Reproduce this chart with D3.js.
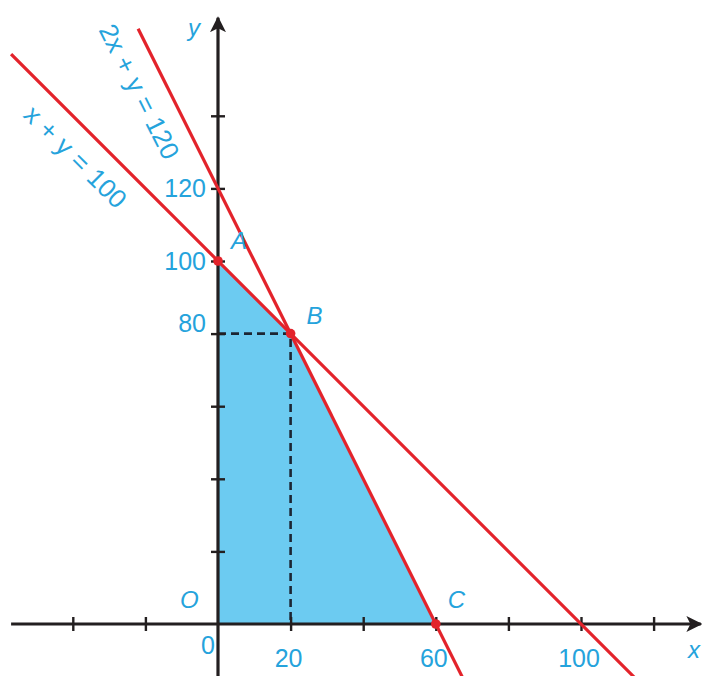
<!DOCTYPE html>
<html>
<head>
<meta charset="utf-8">
<script src="https://cdn.jsdelivr.net/npm/d3@7"></script>
<style>
  html, body { margin: 0; padding: 0; background: #fff; }
  svg { display: block; font-family: "Liberation Sans", Arial, sans-serif; }
</style>
</head>
<body>
<svg id="chart" width="703" height="676"></svg>
<script>
// region vertices (O, A, B, C)
const vertexNames = ['O', 'A', 'B', 'C'];
const vertexX     = [0, 0, 20, 60];
const vertexY     = [0, 100, 80, 0];

// boundary lines a*x + b*y = c, drawn between xFrom and xTo
const lineNames = ['x + y = 100', '2x + y = 120'];
const lineA     = [1, 2];
const lineB     = [1, 1];
const lineC     = [100, 120];
const lineFrom  = [-57, -22];
const lineTo    = [115, 68];

// axes
const xTicks      = [-40, -20, 20, 40, 60, 80, 100, 120];
const yTicks      = [20, 40, 60, 80, 100, 120, 140];
const xTickLabels = [20, 60, 100];
const yTickLabels = [80, 100, 120];

const BLUE  = '#25a3dc';
const RED   = '#e3232b';
const FILL  = '#6ccbf1';
const INK   = '#231f20';

const svg = d3.select('#chart');

const x = d3.scaleLinear().domain([0, 100]).range([218, 581]);
const y = d3.scaleLinear().domain([0, 100]).range([624, 261]);

// feasible region
svg.append('path')
    .datum(vertexX.map((v, i) => [v, vertexY[i]]))
    .attr('d', d3.line().x(d => x(d[0])).y(d => y(d[1])).curve(d3.curveLinearClosed))
    .attr('fill', FILL);

// dashed projections of B
const bx = vertexX[2], by = vertexY[2];
svg.append('path')
    .attr('d', `M${x(0)},${y(by)}H${x(bx)}V${y(0)}`)
    .attr('fill', 'none')
    .attr('stroke', '#1c2633')
    .attr('stroke-width', 2.6)
    .attr('stroke-dasharray', '8,5');

// axis lines with arrows
svg.append('defs').append('marker')
    .attr('id', 'arrow')
    .attr('viewBox', '0 0 10 10')
    .attr('refX', 9).attr('refY', 5)
    .attr('markerWidth', 5).attr('markerHeight', 5)
    .attr('markerUnits', 'strokeWidth')
    .attr('orient', 'auto')
    .append('path')
    .attr('d', 'M0,0L10,5L0,10L2.5,5Z')
    .attr('fill', INK);

svg.append('line')
    .attr('x1', x(-57)).attr('x2', x(133))
    .attr('y1', y(0)).attr('y2', y(0))
    .attr('stroke', INK).attr('stroke-width', 3.2)
    .attr('marker-end', 'url(#arrow)');

svg.append('line')
    .attr('x1', x(0)).attr('x2', x(0))
    .attr('y1', y(-15)).attr('y2', y(167))
    .attr('stroke', INK).attr('stroke-width', 3.2)
    .attr('marker-end', 'url(#arrow)');

// tick marks crossing the axes
const xAxis = svg.append('g')
    .attr('transform', `translate(0,${y(0) - 7})`)
    .call(d3.axisBottom(x).tickValues(xTicks).tickSize(14).tickFormat(''));
const yAxis = svg.append('g')
    .attr('transform', `translate(${x(0) + 7},0)`)
    .call(d3.axisLeft(y).tickValues(yTicks).tickSize(14).tickFormat(''));
[xAxis, yAxis].forEach(g => {
    g.select('.domain').remove();
    g.selectAll('.tick line').attr('stroke', INK).attr('stroke-width', 2.4);
});

// boundary lines
lineNames.forEach((name, i) => {
    const f = v => (lineC[i] - lineA[i] * v) / lineB[i];
    svg.append('line')
        .attr('x1', x(lineFrom[i])).attr('y1', y(f(lineFrom[i])))
        .attr('x2', x(lineTo[i])).attr('y2', y(f(lineTo[i])))
        .attr('stroke', RED).attr('stroke-width', 3.2);
});

// line labels, parallel to the lines, offset to the lower left
const lineLabelAt  = [-34, -15];
const lineLabelOff = 27;
lineNames.forEach((name, i) => {
    const f = v => (lineC[i] - lineA[i] * v) / lineB[i];
    const px = x(lineLabelAt[i]), py = y(f(lineLabelAt[i]));
    const ang = Math.atan2(y(f(1)) - y(f(0)), x(1) - x(0));
    const cx = px - Math.sin(ang) * lineLabelOff;
    const cy = py + Math.cos(ang) * lineLabelOff;
    svg.append('text')
        .attr('transform', `translate(${cx},${cy}) rotate(${ang * 180 / Math.PI})`)
        .attr('text-anchor', 'middle')
        .attr('dy', '0.35em')
        .attr('fill', BLUE)
        .attr('font-size', 26)
        .attr('word-spacing', 1)
        .text(name);
});

// vertex points
vertexNames.forEach((n, i) => {
    if (n === 'O') return;
    svg.append('circle')
        .attr('cx', x(vertexX[i])).attr('cy', y(vertexY[i]))
        .attr('r', 4.8).attr('fill', RED);
});

// vertex labels
const vertexDx = [-38, 13, 16, 12];
const vertexDy = [-16, -12, -10, -16];
vertexNames.forEach((n, i) => {
    svg.append('text')
        .attr('x', x(vertexX[i]) + vertexDx[i])
        .attr('y', y(vertexY[i]) + vertexDy[i])
        .attr('fill', BLUE)
        .attr('font-size', 24)
        .attr('font-style', 'italic')
        .text(n);
});

// tick labels
svg.selectAll('.xlab')
    .data(xTickLabels)
    .join('text')
    .attr('x', d => x(d) - 2)
    .attr('y', y(0) + 43)
    .attr('text-anchor', 'middle')
    .attr('fill', BLUE)
    .attr('font-size', 25)
    .text(d => d);

svg.selectAll('.ylab')
    .data(yTickLabels)
    .join('text')
    .attr('x', x(0) - 12)
    .attr('y', d => y(d) + (d === 80 ? -2 : 9))
    .attr('text-anchor', 'end')
    .attr('fill', BLUE)
    .attr('font-size', 25)
    .text(d => d);

svg.append('text')
    .attr('x', x(0) - 17).attr('y', y(0) + 30)
    .attr('fill', BLUE).attr('font-size', 25)
    .text('0');

// axis names
svg.append('text')
    .attr('x', 688).attr('y', y(0) + 34)
    .attr('fill', BLUE).attr('font-size', 24).attr('font-style', 'italic')
    .text('x');
svg.append('text')
    .attr('x', x(0) - 30).attr('y', 36)
    .attr('fill', BLUE).attr('font-size', 24).attr('font-style', 'italic')
    .text('y');
</script>
</body>
</html>
